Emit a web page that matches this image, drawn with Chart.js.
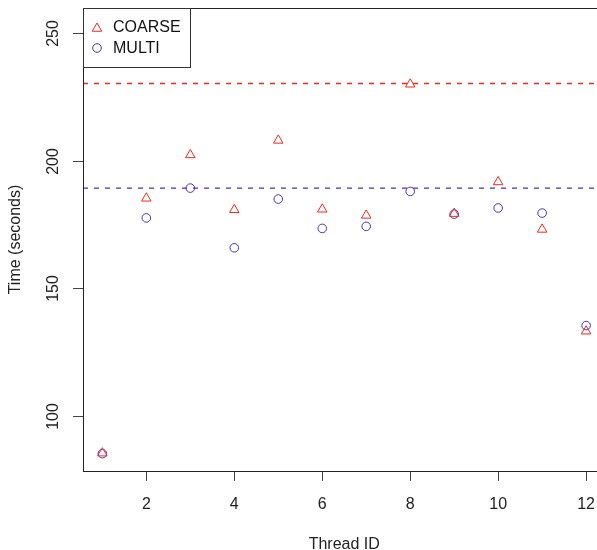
<!DOCTYPE html>
<html>
<head>
<meta charset="utf-8">
<script src="https://cdn.jsdelivr.net/npm/chart.js@4"></script>
<style>
  html, body { margin: 0; padding: 0; background: #fff; overflow: hidden; }
  #chart { display: block; }
</style>
</head>
<body>
<canvas id="chart" width="609" height="550"></canvas>
<script>
// ─── Data ─────────────────────────────────────────────────────────────
const THREAD_IDS = [1, 2, 3, 4, 5, 6, 7, 8, 9, 10, 11, 12];
const COARSE = [85.3, 185.2, 202.2, 180.7, 207.9, 180.9, 178.5, 229.9, 179.2, 191.6, 173.0, 133.1];
const MULTI  = [85.1, 177.5, 189.2, 165.8, 184.9, 173.4, 174.2, 187.9, 179.0, 181.4, 179.4, 135.3];
const COARSE_REF = 230.2; // dashed red line
const MULTI_REF  = 189.2; // dashed blue line
const X_TICKS = [2, 4, 6, 8, 10, 12];
const Y_TICKS = [100, 150, 200, 250];
const X_MIN = 0.56, X_MAX = 12.44;
const Y_MIN = 78.3, Y_MAX = 259.8;

const RED  = "#ee2a1c";
const BLUE = "#4630c0";
const FONT = "'Liberation Sans', Arial, sans-serif";

const toPoints = (ys) => THREAD_IDS.map((x, i) => ({ x, y: ys[i] }));
const hLine = (y) => [{ x: X_MIN, y }, { x: X_MAX, y }];

// ─── Custom drawing: box, rotated y labels, legend ───────────────────
const decor = {
  id: "decor",
  afterDraw(chart) {
    const { ctx, chartArea: a, scales } = chart;
    ctx.save();
    // plot box
    ctx.strokeStyle = "#222";
    ctx.lineWidth = 1;
    ctx.strokeRect(Math.round(a.left) + 0.5, Math.round(a.top) + 0.5,
                   Math.round(a.right - a.left), Math.round(a.bottom - a.top));

    // y ticks + rotated labels (R style)
    ctx.fillStyle = "#222";
    ctx.font = "16px " + FONT;
    ctx.textAlign = "center";
    ctx.textBaseline = "middle";
    for (const v of Y_TICKS) {
      const py = Math.round(scales.y.getPixelForValue(v)) + 0.5;
      ctx.strokeStyle = "#444";
      ctx.beginPath();
      ctx.moveTo(a.left - 10, py);
      ctx.lineTo(a.left, py);
      ctx.stroke();
      ctx.save();
      ctx.translate(54, py);
      ctx.rotate(-Math.PI / 2);
      ctx.fillText(String(v), 0, 0);
      ctx.restore();
    }

    // legend
    const lx = Math.round(a.left) + 0.5, ly = Math.round(a.top) + 0.5;
    ctx.fillStyle = "#fff";
    ctx.fillRect(lx, ly, 107, 59);
    ctx.strokeStyle = "#333";
    ctx.strokeRect(lx, ly, 107, 59);
    // triangle
    ctx.strokeStyle = RED;
    const r = 5.5, tx = 97, ty = 28.5;
    ctx.beginPath();
    ctx.moveTo(tx, ty - r);
    ctx.lineTo(tx + r * Math.sin(2 * Math.PI / 3), ty + r / 2);
    ctx.lineTo(tx - r * Math.sin(2 * Math.PI / 3), ty + r / 2);
    ctx.closePath();
    ctx.stroke();
    // circle
    ctx.strokeStyle = BLUE;
    ctx.beginPath();
    ctx.arc(97, 48, 4.3, 0, Math.PI * 2);
    ctx.stroke();
    ctx.fillStyle = "#111";
    ctx.textAlign = "left";
    ctx.fillText("COARSE", 113, 28);
    ctx.fillText("MULTI", 113, 49);
    ctx.restore();
  },
};

// ─── Chart ────────────────────────────────────────────────────────────
new Chart(document.getElementById("chart"), {
  type: "scatter",
  data: {
    datasets: [
      {
        label: "COARSE",
        data: toPoints(COARSE),
        pointStyle: "triangle",
        pointRadius: 5.5,
        borderColor: RED,
        backgroundColor: "transparent",
        borderWidth: 1,
      },
      {
        label: "MULTI",
        data: toPoints(MULTI),
        pointStyle: "circle",
        pointRadius: 4.3,
        borderColor: BLUE,
        backgroundColor: "transparent",
        borderWidth: 1,
      },
      {
        label: "coarse ref",
        data: hLine(COARSE_REF),
        showLine: true,
        pointRadius: 0,
        borderColor: RED,
        borderWidth: 1.4,
        borderDash: [5, 6],
      },
      {
        label: "multi ref",
        data: hLine(MULTI_REF),
        showLine: true,
        pointRadius: 0,
        borderColor: BLUE,
        borderWidth: 1.4,
        borderDash: [5, 6],
      },
    ],
  },
  options: {
    responsive: false,
    animation: false,
    layout: { autoPadding: false, padding: { top: 8, left: 0, right: 0, bottom: 0 } },
    plugins: { legend: { display: false }, tooltip: { enabled: false } },
    scales: {
      x: {
        type: "linear",
        min: X_MIN,
        max: X_MAX,
        afterBuildTicks: (s) => { s.ticks = X_TICKS.map((v) => ({ value: v })); },
        afterFit: (s) => { s.height = 79; },
        ticks: {
          color: "#222",
          font: { size: 16, family: FONT },
          padding: 14,
          maxRotation: 0,
          autoSkip: false,
        },
        grid: { drawOnChartArea: false, tickLength: 10, color: "#444" },
        border: { display: false },
        title: {
          display: true,
          text: "Thread ID",
          color: "#222",
          font: { size: 16, family: FONT, lineHeight: 1 },
          padding: { top: 0, bottom: -3 },
        },
      },
      y: {
        type: "linear",
        min: Y_MIN,
        max: Y_MAX,
        afterBuildTicks: (s) => { s.ticks = Y_TICKS.map((v) => ({ value: v })); },
        afterFit: (s) => { s.width = 83; },
        ticks: { display: false },
        grid: { display: false },
        border: { display: false },
        title: {
          display: true,
          text: "Time (seconds)",
          color: "#222",
          font: { size: 16, family: FONT, lineHeight: 1 },
          padding: { top: 8, bottom: 0 },
        },
      },
    },
  },
  plugins: [decor],
});
</script>
</body>
</html>
